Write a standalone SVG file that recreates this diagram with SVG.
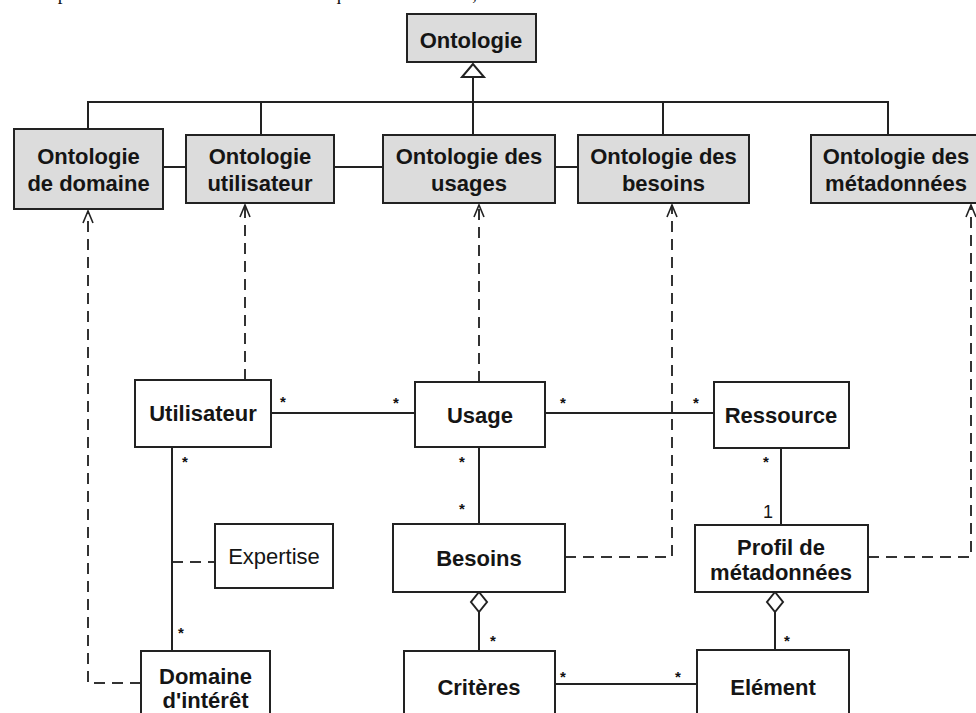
<svg xmlns="http://www.w3.org/2000/svg" width="976" height="713" viewBox="0 0 976 713">
<style>
.bg{fill:#fff}
.onto{fill:#dcdcdc;stroke:#222;stroke-width:2}
.cls{fill:#fff;stroke:#222;stroke-width:2}
.t{font-family:"Liberation Sans",Arial,sans-serif;font-size:22px;font-weight:bold;fill:#151515;text-anchor:middle}
.r{font-weight:normal}
.ln{fill:none;stroke:#222;stroke-width:2}
.dash{fill:none;stroke:#333;stroke-width:2;stroke-dasharray:11 7}
.star{font-family:"Liberation Sans",Arial,sans-serif;font-size:15px;font-weight:bold;fill:#111;text-anchor:middle}
.top{font-family:"Liberation Serif","Times New Roman",serif;font-size:19px;fill:#111}
</style>
<defs>
<marker id="open" viewBox="0 0 14 12" refX="13" refY="6" markerWidth="14" markerHeight="12" markerUnits="userSpaceOnUse" orient="auto">
<path d="M1,1 L13,6 L1,11" fill="none" stroke="#222" stroke-width="1.6"/>
</marker>
</defs>
<rect class="bg" x="0" y="0" width="976" height="713"/>
<text class="top" x="4" y="0" textLength="968" lengthAdjust="spacing">a  la partie de droite décrit quant à elle, les informations relatives à l'ensemble d</text>

<g id="connectors">
<!-- generalisation -->
<polygon points="473,64 462,77 484,77" fill="#fff" stroke="#222" stroke-width="2"/>
<path class="ln" d="M473,77 V135"/>
<path class="ln" d="M88,129 V102 H888 V135"/>
<path class="ln" d="M261,102 V135"/>
<path class="ln" d="M663,102 V135"/>
<!-- ontology associations -->
<path class="ln" d="M163,167 H186"/>
<path class="ln" d="M334,167 H383"/>
<path class="ln" d="M555,167 H578"/>
<!-- dashed dependencies -->
<path class="dash" d="M141,683 H88 V211" marker-end="url(#open)"/>
<path class="dash" d="M245,380 V205" marker-end="url(#open)"/>
<path class="dash" d="M479,382 V205" marker-end="url(#open)"/>
<path class="dash" d="M565,557 H672 V205" marker-end="url(#open)"/>
<path class="dash" d="M868,557 H971 V205" marker-end="url(#open)"/>
<path class="dash" d="M172,562 H215"/>
<!-- associations -->
<path class="ln" d="M271,413 H415"/>
<path class="ln" d="M545,413 H714"/>
<path class="ln" d="M172,447 V651"/>
<path class="ln" d="M479,447 V524"/>
<path class="ln" d="M781,448 V525"/>
<path class="ln" d="M479,612 V651"/>
<polygon points="479,592 487,602 479,612 471,602" fill="#fff" stroke="#222" stroke-width="2"/>
<path class="ln" d="M775,612 V650"/>
<polygon points="775,592 783,602 775,612 767,602" fill="#fff" stroke="#222" stroke-width="2"/>
<path class="ln" d="M555,684 H697"/>
<!-- multiplicities -->
<text class="star" x="283" y="407">*</text>
<text class="star" x="396" y="408">*</text>
<text class="star" x="563" y="408">*</text>
<text class="star" x="696" y="408">*</text>
<text class="star" x="185" y="467">*</text>
<text class="star" x="462" y="467">*</text>
<text class="star" x="462" y="514">*</text>
<text class="star" x="766" y="467">*</text>
<text class="star" x="181" y="638">*</text>
<text class="star" x="493" y="646">*</text>
<text class="star" x="787" y="646">*</text>
<text class="star" x="563" y="682">*</text>
<text class="star" x="678" y="682">*</text>
<text class="t r" x="768" y="518" style="font-size:18px">1</text>
</g>

<g id="ontologie"><rect class="onto" x="407" y="14" width="129" height="48"/><text class="t" x="471" y="48">Ontologie</text></g>
<g id="onto-domaine"><rect class="onto" x="14" y="129" width="149" height="80"/><text class="t" x="88.5" y="164">Ontologie</text><text class="t" x="88.5" y="191">de domaine</text></g>
<g id="onto-utilisateur"><rect class="onto" x="186" y="135" width="148" height="68"/><text class="t" x="260" y="164">Ontologie</text><text class="t" x="260" y="191">utilisateur</text></g>
<g id="onto-usages"><rect class="onto" x="383" y="135" width="172" height="68"/><text class="t" x="469" y="164">Ontologie des</text><text class="t" x="469" y="191">usages</text></g>
<g id="onto-besoins"><rect class="onto" x="578" y="135" width="171" height="68"/><text class="t" x="663.5" y="164">Ontologie des</text><text class="t" x="663.5" y="191">besoins</text></g>
<g id="onto-metadonnees"><rect class="onto" x="811" y="135" width="172" height="68"/><text class="t" x="896" y="164">Ontologie des</text><text class="t" x="896" y="191">métadonnées</text></g>

<g id="utilisateur"><rect class="cls" x="135" y="380" width="136" height="67"/><text class="t" x="203" y="421">Utilisateur</text></g>
<g id="usage"><rect class="cls" x="415" y="382" width="130" height="65"/><text class="t" x="480" y="423">Usage</text></g>
<g id="ressource"><rect class="cls" x="714" y="382" width="135" height="66"/><text class="t" x="781" y="423">Ressource</text></g>
<g id="expertise"><rect class="cls" x="215" y="524" width="118" height="64"/><text class="t r" x="274" y="564">Expertise</text></g>
<g id="besoins"><rect class="cls" x="393" y="524" width="172" height="68"/><text class="t" x="479" y="566">Besoins</text></g>
<g id="profil"><rect class="cls" x="695" y="525" width="173" height="67"/><text class="t" x="781" y="555">Profil de</text><text class="t" x="781" y="580">métadonnées</text></g>
<g id="domaine-interet"><rect class="cls" x="141" y="651" width="129" height="75"/><text class="t" x="205.5" y="684">Domaine</text><text class="t" x="205.5" y="708">d'intérêt</text></g>
<g id="criteres"><rect class="cls" x="404" y="651" width="151" height="75"/><text class="t" x="479" y="695">Critères</text></g>
<g id="element"><rect class="cls" x="697" y="650" width="152" height="76"/><text class="t" x="773" y="695">Elément</text></g>
</svg>
